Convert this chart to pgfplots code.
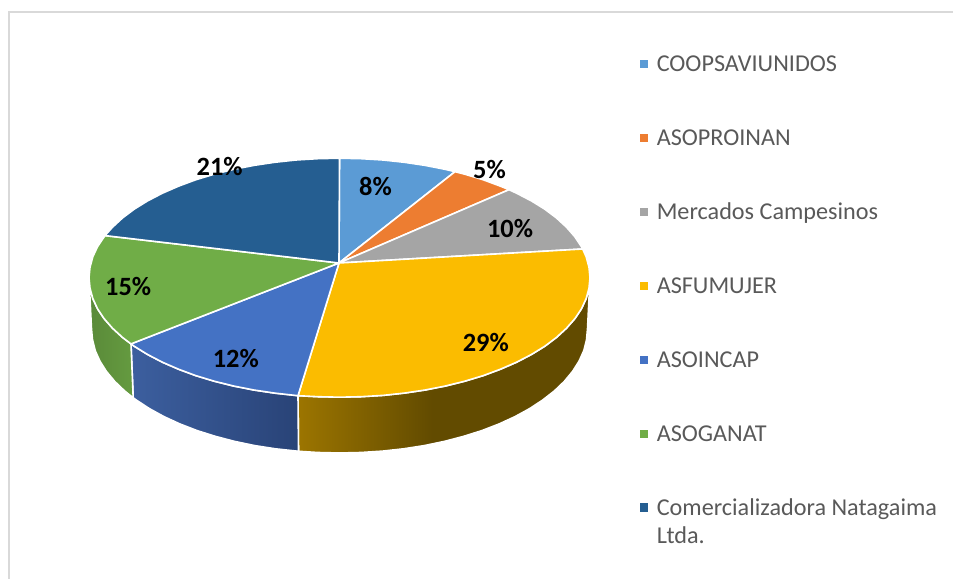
\documentclass[border=0pt]{standalone}
\usepackage{pgfplots}
\pgfplotsset{compat=1.18}
\usepackage{fontspec}
\setmainfont{Carlito}
\definecolor{cA}{HTML}{5B9BD5}
\definecolor{cB}{HTML}{ED7D31}
\definecolor{cC}{HTML}{A5A5A5}
\definecolor{cD}{HTML}{FBBC00}
\definecolor{cE}{HTML}{4472C4}
\definecolor{cF}{HTML}{70AD47}
\definecolor{cG}{HTML}{255E91}
\definecolor{txt}{HTML}{595959}
\definecolor{yL}{HTML}{9C7500}
\definecolor{yR}{HTML}{624B00}
\definecolor{bL}{HTML}{3C5F9F}
\definecolor{bR}{HTML}{294377}
\definecolor{gL}{HTML}{5A8A39}
\definecolor{gR}{HTML}{659B40}
\pgfdeclarehorizontalshading{yside}{100bp}{color(0bp)=(yL); color(25bp)=(yL); color(48bp)=(yR); color(100bp)=(yR)}
\begin{document}
\begin{tikzpicture}
\begin{axis}[
  scale only axis, width=715.5pt, height=435pt,
  xmin=0, xmax=954, ymin=0, ymax=580, y dir=reverse,
  hide axis, clip=false,
  legend style={draw=none}
]
% invisible extent of the page
\addplot[draw=none, forget plot] coordinates {(0,0)(954,580)};
\path (axis cs:0,0) rectangle (axis cs:954,580);
% frame
\addplot[draw=black!15, line width=1.5pt, forget plot] coordinates {(8.5,579)(8.5,12.5)(953,12.5)};
% side faces
\addplot[shading=yside, draw=white, line width=1.2pt, forget plot] coordinates {
(298,395.7)(317.7,396.7)(339.5,397.2)(361.3,396.7)(383,395.4)(404.4,393.1)(425.2,390)(445.5,386)(464.8,381.2)(483.3,375.6)(500.5,369.2)(516.6,362.2)(531.4,354.5)(544.7,346.3)(556.4,337.5)(566.5,328.2)(574.9,318.6)(581.5,308.7)(586.2,298.5)(589,288.1)(590,277.7)
(587.5,329)(586.5,339.8)(583.8,350.6)(579.1,361.1)(572.6,371.4)(564.3,381.4)(554.3,391)(542.6,400.1)(529.5,408.7)(514.9,416.7)(499,424)(481.9,430.6)(463.5,436.4)(444.4,441.4)(424.3,445.6)(403.7,448.8)(382.7,451.1)(361.1,452.5)(339.5,453)(317.9,452.5)(298.5,451.3)} -- cycle;
\addplot[left color=bL, right color=bR, draw=white, line width=1.2pt, forget plot] coordinates {
(131,343.9)(134.3,346.3)(147.6,354.5)(162.4,362.2)(178.5,369.2)(195.7,375.6)(214.2,381.2)(233.5,386)(253.8,390)(274.6,393.1)(298,395.7)
(298.5,451.3)(275.3,448.8)(254.7,445.6)(234.6,441.4)(215.5,436.4)(197.1,430.6)(180,424)(164.1,416.7)(149.5,408.7)(136.4,400.1)(133.2,397.8)} -- cycle;
\addplot[left color=gL, right color=gR, draw=white, line width=1.2pt, forget plot] coordinates {
(89,277.7)(90,288.1)(92.8,298.5)(97.5,308.7)(104.1,318.6)(112.5,328.2)(122.6,337.5)(131,343.9)
(133.2,397.8)(124.7,391)(114.7,381.4)(106.4,371.4)(99.9,361.1)(95.2,350.6)(92.5,339.8)(91.5,329)} -- cycle;
% top faces
\addplot[fill=cA, draw=white, line width=1.2pt, line join=round, forget plot] coordinates {
(339,263)(339.5,158.2)(361.3,158.7)(383,160)(404.4,162.3)(425.2,165.4)(445.5,169.4)(455,171.7)} -- cycle;
\addplot[fill=cB, draw=white, line width=1.2pt, line join=round, forget plot] coordinates {
(339,263)(455,171.7)(464.8,174.2)(483.3,179.8)(500.5,186.2)(509,189.7)} -- cycle;
\addplot[fill=cC, draw=white, line width=1.2pt, line join=round, forget plot] coordinates {
(339,263)(509,189.7)(516.6,193.2)(531.4,200.9)(544.7,209.1)(556.4,217.9)(566.5,227.2)(574.9,236.8)(581.5,246.7)(582.7,249)} -- cycle;
\addplot[fill=cD, draw=white, line width=1.2pt, line join=round, forget plot] coordinates {
(339,263)(582.7,249)(586.2,256.9)(589,267.3)(590,277.7)(589,288.1)(586.2,298.5)(581.5,308.7)(574.9,318.6)(566.5,328.2)(556.4,337.5)(544.7,346.3)(531.4,354.5)(516.6,362.2)(500.5,369.2)(483.3,375.6)(464.8,381.2)(445.5,386)(425.2,390)(404.4,393.1)(383,395.4)(361.3,396.7)(339.5,397.2)(317.7,396.7)(298,395.7)} -- cycle;
\addplot[fill=cE, draw=white, line width=1.2pt, line join=round, forget plot] coordinates {
(339,263)(298,395.7)(274.6,393.1)(253.8,390)(233.5,386)(214.2,381.2)(195.7,375.6)(178.5,369.2)(162.4,362.2)(147.6,354.5)(134.3,346.3)(131,343.9)} -- cycle;
\addplot[fill=cF, draw=white, line width=1.2pt, line join=round, forget plot] coordinates {
(339,263)(131,343.9)(122.6,337.5)(112.5,328.2)(104.1,318.6)(97.5,308.7)(92.8,298.5)(90,288.1)(89,277.7)(90,267.3)(92.8,256.9)(97.5,246.7)(105,235.6)} -- cycle;
\addplot[fill=cG, draw=white, line width=1.2pt, line join=round, forget plot] coordinates {
(339,263)(105,235.6)(112.5,227.2)(122.6,217.9)(134.3,209.1)(147.6,200.9)(162.4,193.2)(178.5,186.2)(195.7,179.8)(214.2,174.2)(233.5,169.4)(253.8,165.4)(274.6,162.3)(296,160)(317.7,158.7)(339.5,158.2)} -- cycle;
% value labels
\begin{scope}[every node/.style={anchor=base, font=\fontsize{19.8pt}{22pt}\selectfont\bfseries, inner sep=0pt, text=black}]
\node at (axis cs:375.5,196) {8\%};
\node at (axis cs:489.5,178.5) {5\%};
\node at (axis cs:510,238) {10\%};
\node at (axis cs:485.8,352) {29\%};
\node at (axis cs:235.8,368) {12\%};
\node at (axis cs:128.2,296) {15\%};
\node at (axis cs:219.7,175.5) {21\%};
\end{scope}
% legend keys
\addplot[only marks, mark=square*, mark size=2.8pt, mark options={draw=cA, fill=cA}, forget plot] coordinates {(644,63.7)};
\addplot[only marks, mark=square*, mark size=2.8pt, mark options={draw=cB, fill=cB}, forget plot] coordinates {(644,137.7)};
\addplot[only marks, mark=square*, mark size=2.8pt, mark options={draw=cC, fill=cC}, forget plot] coordinates {(644,211.7)};
\addplot[only marks, mark=square*, mark size=2.8pt, mark options={draw=cD, fill=cD}, forget plot] coordinates {(644,285.7)};
\addplot[only marks, mark=square*, mark size=2.8pt, mark options={draw=cE, fill=cE}, forget plot] coordinates {(644,359.7)};
\addplot[only marks, mark=square*, mark size=2.8pt, mark options={draw=cF, fill=cF}, forget plot] coordinates {(644,433.7)};
\addplot[only marks, mark=square*, mark size=2.8pt, mark options={draw=cG, fill=cG}, forget plot] coordinates {(644,507.3)};
\begin{scope}[every node/.style={anchor=base west, font=\fontsize{18.15pt}{22pt}\selectfont, inner sep=0pt, text=txt}]
\node at (axis cs:656.5,71.3) {COOPSAVIUNIDOS};
\node at (axis cs:656.5,145.3) {ASOPROINAN};
\node at (axis cs:656.5,219.3) {Mercados Campesinos};
\node at (axis cs:656.5,293.3) {ASFUMUJER};
\node at (axis cs:656.5,367.3) {ASOINCAP};
\node at (axis cs:656.5,441.3) {ASOGANAT};
\node at (axis cs:656.5,515.7) {Comercializadora Natagaima};
\node at (axis cs:656.5,544) {Ltda.};
\end{scope}
\end{axis}
\end{tikzpicture}
\end{document}
